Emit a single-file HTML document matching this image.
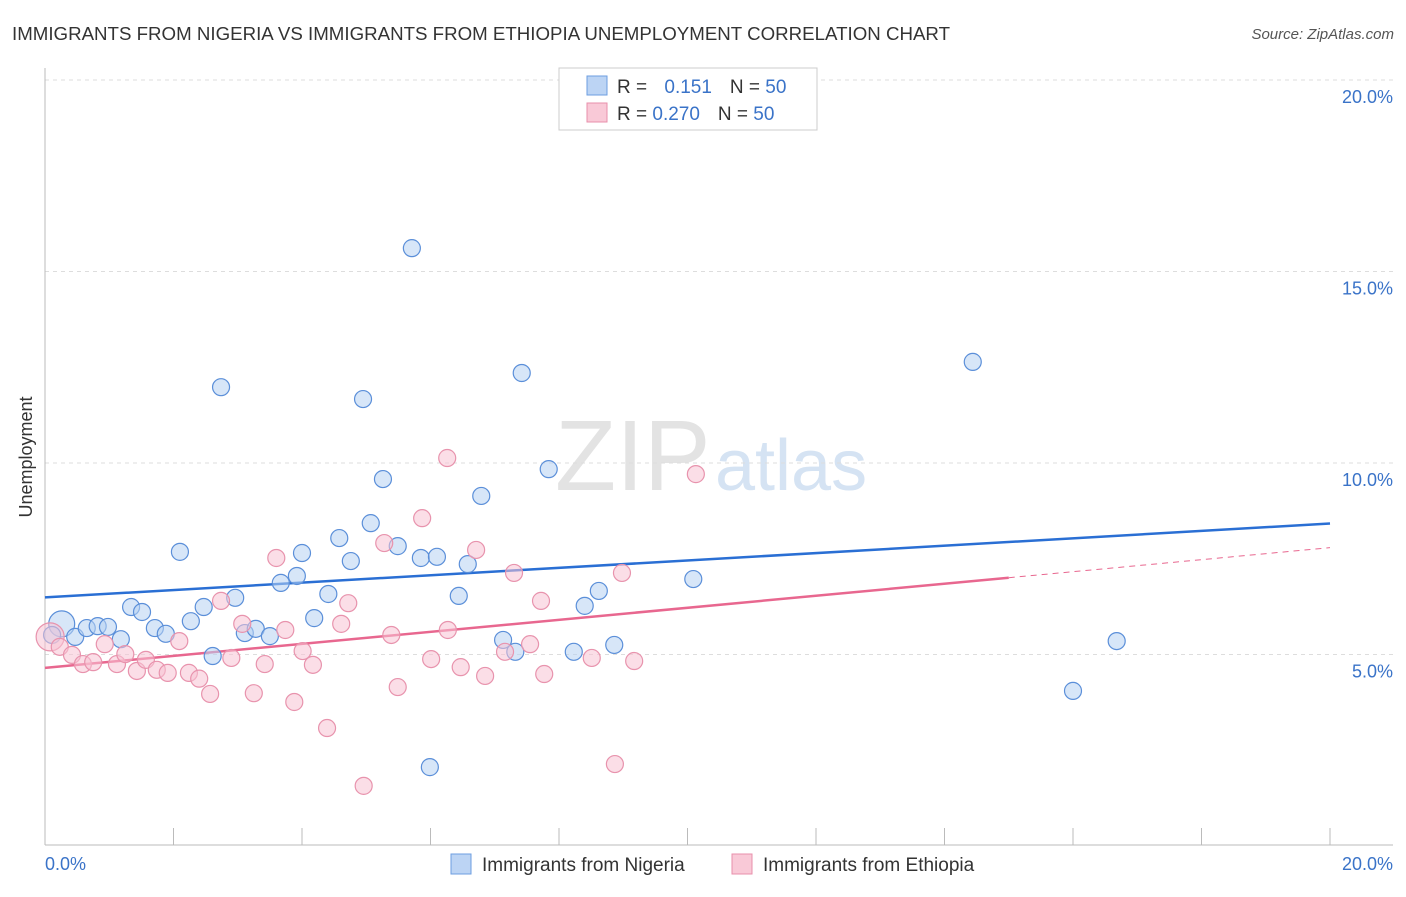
<!DOCTYPE html>
<html><head><meta charset="utf-8"><style>
body{margin:0;background:#fff;font-family:"Liberation Sans",sans-serif;}
svg text{font-family:"Liberation Sans",sans-serif;}
</style></head><body>
<svg width="1406" height="892" viewBox="0 0 1406 892">
<text x="12" y="40" font-size="18" fill="#333" textLength="938" lengthAdjust="spacingAndGlyphs">IMMIGRANTS FROM NIGERIA VS IMMIGRANTS FROM ETHIOPIA UNEMPLOYMENT CORRELATION CHART</text>
<text x="1394" y="39" font-size="15" fill="#555" font-style="italic" text-anchor="end">Source: ZipAtlas.com</text>
<g>
<text x="555" y="490" font-size="100" fill="#e3e3e3" font-family="Liberation Serif,serif">ZIP</text>
<text x="715" y="490" font-size="72" fill="#d5e3f3">atlas</text>
</g>
<g id="grid"></g>
<line x1="45" y1="68" x2="45" y2="845" stroke="#bbb"/>
<line x1="45" y1="845" x2="1393" y2="845" stroke="#bbb"/>
<g id="xticks"></g>
<text x="32" y="457" font-size="18" fill="#333" transform="rotate(-90 32 457)" text-anchor="middle">Unemployment</text>
<text x="45" y="870" font-size="18" fill="#3a73c8">0.0%</text>
<text x="1393" y="870" font-size="18" fill="#3a73c8" text-anchor="end">20.0%</text>
<g id="lines"></g>
<g id="pts"></g>
<g>
<rect x="559" y="68" width="258" height="62" fill="#fff" stroke="#ccc"/>
<rect x="587" y="76" width="20" height="19" fill="#bcd4f4" stroke="#6d9ee0"/>
<rect x="587" y="103" width="20" height="19" fill="#f9c9d7" stroke="#e88fab"/>
<text x="617" y="93" font-size="19" fill="#333">R = <tspan fill="#3a73c8" dx="12">0.151</tspan><tspan dx="18" fill="#333">N = </tspan><tspan fill="#3a73c8">50</tspan></text>
<text x="617" y="120" font-size="19" fill="#333">R = <tspan fill="#3a73c8">0.270</tspan><tspan dx="18" fill="#333">N = </tspan><tspan fill="#3a73c8">50</tspan></text>
</g>
<g>
<rect x="451" y="854" width="20" height="20" fill="#bcd4f4" stroke="#6d9ee0"/>
<text x="482" y="871" font-size="19" fill="#333">Immigrants from Nigeria</text>
<rect x="732" y="854" width="20" height="20" fill="#f9c9d7" stroke="#e88fab"/>
<text x="763" y="871" font-size="19" fill="#333">Immigrants from Ethiopia</text>
</g>
</svg>
<script>
const yTicks=[5,10,15,20];
const xTickVals=[0,2,4,6,8,10,12,14,16,18,20];
const nigeriaX=[0.26,0.11,0.47,0.65,0.82,0.98,1.18,1.34,1.51,1.71,1.88,2.10,2.27,2.47,2.61,2.74,2.96,3.11,3.28,3.50,3.67,3.92,4.00,4.19,4.41,4.58,4.76,4.95,5.07,5.26,5.49,5.71,5.85,5.99,6.10,6.44,6.58,6.79,7.13,7.32,7.42,7.84,8.23,8.40,8.62,8.86,10.09,14.44,16.00,16.68];
const nigeriaY=[5.80,5.51,5.46,5.69,5.74,5.72,5.40,6.24,6.11,5.69,5.54,7.68,5.87,6.24,4.96,11.98,6.48,5.56,5.67,5.48,6.87,7.05,7.65,5.95,6.58,8.04,7.44,11.67,8.43,9.58,7.83,15.61,7.52,2.06,7.55,6.53,7.36,9.14,5.38,5.07,12.35,9.84,5.07,6.27,6.66,5.25,6.97,12.64,4.05,5.35];
const ethiopiaX=[0.08,0.23,0.42,0.59,0.75,0.93,1.12,1.25,1.43,1.57,1.74,1.91,2.09,2.24,2.40,2.57,2.74,2.90,3.07,3.25,3.42,3.60,3.74,3.88,4.01,4.17,4.39,4.61,4.72,4.96,5.28,5.39,5.49,5.87,6.01,6.26,6.27,6.47,6.71,6.85,7.16,7.30,7.55,7.72,7.77,8.51,8.87,8.98,9.17,10.13];
const ethiopiaY=[5.46,5.20,4.99,4.75,4.80,5.27,4.75,5.01,4.57,4.86,4.60,4.52,5.35,4.52,4.37,3.97,6.40,4.91,5.80,3.99,4.75,7.52,5.64,3.76,5.09,4.73,3.08,5.80,6.34,1.57,7.91,5.51,4.15,8.56,4.88,10.13,5.64,4.67,7.73,4.44,5.07,7.13,5.27,6.40,4.49,4.91,2.14,7.13,4.83,9.71];
const nigeriaTrend=[6.49,8.42];
const ethiopiaTrend=[4.65,7.79];
const ethiopiaSolidEnd=15.0;
const X=v=>45+v/20*1285, Y=v=>846-v/20*766;
const NS='http://www.w3.org/2000/svg';
function mk(tag,attrs,parent){const e=document.createElementNS(NS,tag);for(const k in attrs)e.setAttribute(k,attrs[k]);parent.appendChild(e);return e;}
const grid=document.getElementById('grid');
yTicks.forEach(t=>{
 const l=mk('line',{x1:45,x2:1393,y1:Y(t),y2:Y(t),stroke:'#ddd','stroke-dasharray':'4,4'},grid);
 
 
 const tx=mk('text',{x:1393,y:Y(t)+23,'font-size':18,fill:'#3a73c8','text-anchor':'end'},grid);
 tx.textContent=t.toFixed(1)+'%';
 
 
});
const xt=document.getElementById('xticks');
xTickVals.forEach(t=>{
 const l=mk('line',{x1:X(t),x2:X(t),y1:828,y2:845,stroke:'#bbb'},xt);
 
 
});
const lg=document.getElementById('lines');
const bl=mk('line',{x1:X(0),y1:Y(nigeriaTrend[0]),x2:X(20),y2:Y(nigeriaTrend[1]),stroke:'#2a6fd4','stroke-width':2.5},lg);


const ey=x=>ethiopiaTrend[0]+(ethiopiaTrend[1]-ethiopiaTrend[0])*x/20;
const pl=mk('line',{x1:X(0),y1:Y(ey(0)),x2:X(ethiopiaSolidEnd),y2:Y(ey(ethiopiaSolidEnd)),stroke:'#e8678f','stroke-width':2.5},lg);


const pd=mk('line',{x1:X(ethiopiaSolidEnd),y1:Y(ey(ethiopiaSolidEnd)),x2:X(20),y2:Y(ey(20)),stroke:'#e8678f','stroke-width':1,'stroke-dasharray':'6,5'},lg);


const pg=document.getElementById('pts');
function draw(xs,ys,fill,stroke,name){
 xs.forEach((x,i)=>{
  const r=i===0?(name==='nigeria-point'?13:14):8.5;
  const c=mk('circle',{cx:X(x),cy:Y(ys[i]),r:r,fill:fill,'fill-opacity':0.55,stroke:stroke,'stroke-width':1.2},pg);
  
  
 });
}
draw(nigeriaX,nigeriaY,'#b7d1f3','#5b8fd9','nigeria-point');
draw(ethiopiaX,ethiopiaY,'#f8c3d3','#e893ad','ethiopia-point');
</script>
</body></html>
